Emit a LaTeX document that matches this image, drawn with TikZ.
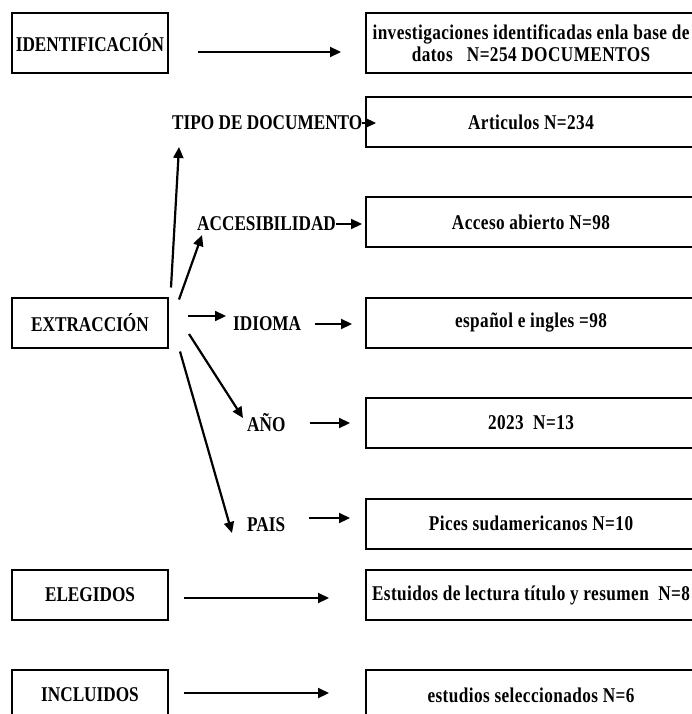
\documentclass[tikz,border=0pt]{standalone}
\usepackage{fontspec}
\setmainfont{Liberation Serif}[FakeStretch=0.82]
\usepackage{tikz}
\usetikzlibrary{positioning}
\usetikzlibrary{arrows.meta}
\usetikzlibrary{calc}

\begin{document}
\begin{tikzpicture}[
  x=1pt, y=-1pt,
  box/.style={
    rectangle,
    draw=black,
    line width=2pt,
    minimum width=#1,
    minimum height=50pt,
    inner sep=0pt,
    align=center,
    font=\fontsize{21}{22}\selectfont\bfseries
  },
  box/.default=156pt,
  rbox/.style={box=330pt, font=\fontsize{21}{22}\selectfont\bfseries\addfontfeature{LetterSpace=2}},
  lbl/.style={anchor=west, inner sep=0pt, font=\fontsize{21}{22}\selectfont\bfseries},
  arr/.style={-{Triangle[length=11pt,width=10pt]}, line width=2.2pt}
]
\useasboundingbox (0,0) rectangle (692,714);

% Boxes on the left
\node[box, minimum height=60pt] (ident) at (90,43) {IDENTIFICACIÓN};
\node[box] (extr) at (90,322.5) {EXTRACCIÓN};
\node[box] (elegidos) at (90,595) {ELEGIDOS};
\node[box] (incluidos) at (90,695) {INCLUIDOS};

% Boxes on the right
\node[rbox, minimum height=60pt] (datos) at (531,43)
{investigaciones identificadas enla base de\\datos\ \ \ N=254 DOCUMENTOS};
\node[rbox] (articulos) at (531,122) {Articulos N=234};
\node[rbox] (acceso) at (531,222) {Acceso abierto N=98};
\node[rbox] (espanol) at (531,322.5) {español e ingles =98};
\node[rbox] (anio23) at (531,422.5) {2023\ \ N=13};
\node[rbox] (pices) at (531,523.5) {Pices sudamericanos N=10};
\node[rbox] (estuidos) at (531,595) {Estuidos de lectura título y resumen\ \ N=8};
\node[rbox] (estudios) at (531,695) {estudios seleccionados N=6};

% Criteria
\node[lbl] (tipo) at (172,123) {TIPO DE DOCUMENTO};
\node[lbl] (acces) at (197,224) {ACCESIBILIDAD};
\node[lbl] (idioma) at (233,324) {IDIOMA};
\node[lbl] (anio) at (247,423) {AÑO};
\node[lbl] (pais) at (247,525) {PAIS};

% Arrows
\draw[arr, shorten <=29pt, shorten >=24pt] ([yshift=-9pt]ident.east) -- ([yshift=-9pt]datos.west);
\draw[arr] (tipo.east) -- ([xshift=11pt]tipo.east -| articulos.west);
\draw[arr] ([shift={(2,-9)}]extr.north east) -- ([shift={(7,24)}]tipo.west);
\draw[arr] ([shift={(10,3)}]extr.north east) -- ([shift={(5,11)}]acces.west);
\draw[arr, shorten >=3pt] (acces.east) -- (acces.east -| acceso.west);
\draw[arr] ([shift={(19,-6.5)}]extr.east) -- ([shift={(-7,-8)}]idioma.west);
\draw[arr, shorten <=14pt, shorten >=13pt] (idioma.east) -- (idioma.east -| espanol.west);
\draw[arr] ([shift={(20,11.5)}]extr.east) -- ([shift={(-4,-5)}]anio.west);
\draw[arr] ([shift={(11,3)}]extr.south east) -- ([shift={(-15,8)}]pais.west);
\draw[arr, shorten <=24pt, shorten >=15pt] (anio.east) -- (anio.east -| anio23.west);
\draw[arr, shorten <=24pt, shorten >=15pt] ([yshift=7pt]pais.east) -- ([yshift=7pt]pais.east -| pices.west);
\draw[arr, shorten <=15pt, shorten >=36pt] ([yshift=-3pt]elegidos.east) -- ([yshift=-3pt]estuidos.west);
\draw[arr, shorten <=15pt, shorten >=36pt] ([yshift=2pt]incluidos.east) -- ([yshift=2pt]estudios.west);

\end{tikzpicture}
\end{document}
